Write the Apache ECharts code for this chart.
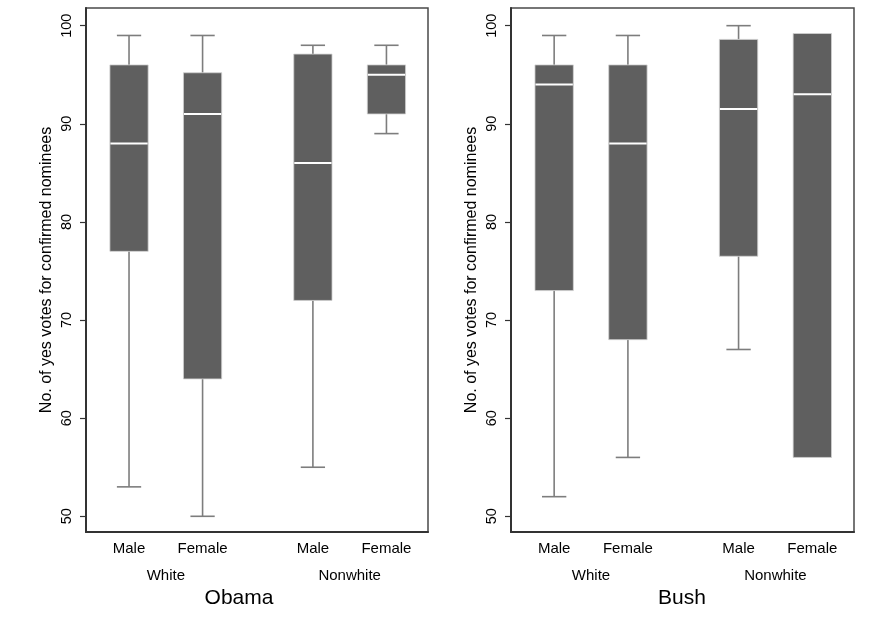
<!DOCTYPE html>
<html>
<head>
<meta charset="utf-8">
<script src="https://cdn.jsdelivr.net/npm/echarts@6/dist/echarts.min.js"></script>
<style>html,body{margin:0;padding:0;background:#fff}#c{width:874px;height:617px}</style>
</head>
<body>
<div id="c"></div>
<script>
// ---- data ----
var categories = ['Male', 'Female', 'Male', 'Female'];
var categoryPositions = [0, 1, 2.5, 3.5];
var groups = ['White', 'Nonwhite'];
var groupPositions = [0.5, 3.0];
var panelTitles = ['Obama', 'Bush'];
var yTicks = [50, 60, 70, 80, 90, 100];
var yAxisTitle = 'No. of yes votes for confirmed nominees';
// [min, Q1, median, Q3, max]
var obamaBoxes = [
  [53, 77, 88, 96, 99],
  [50, 64, 91, 95.2, 99],
  [55, 72, 86, 97.1, 98],
  [89, 91, 95, 96, 98]
];
var bushBoxes = [
  [52, 73, 94, 96, 99],
  [56, 68, 88, 96, 99],
  [67, 76.5, 91.5, 98.6, 100],
  [56, 56, 93, 99.2, 99.2]
];

var FONT = '"Liberation Sans", Arial, Helvetica, sans-serif';
var chart = echarts.init(document.getElementById('c'), null, {renderer: 'canvas'});

function toData(boxes) {
  return boxes.map(function (b, i) { return [categoryPositions[i]].concat(b); });
}

function renderBox(params, api) {
  var x = api.value(0);
  var mn = api.value(1), q1 = api.value(2), md = api.value(3), q3 = api.value(4), mx = api.value(5);
  var pMin = api.coord([x, mn]), pQ1 = api.coord([x, q1]), pMd = api.coord([x, md]);
  var pQ3 = api.coord([x, q3]), pMax = api.coord([x, mx]);
  var bw = api.size([0.52, 0])[0];
  var cw = api.size([0.33, 0])[0];
  var cx = pMd[0];
  var wStyle = {stroke: '#7d7d7d', lineWidth: 1.6};
  var children = [];
  if (mx > q3) {
    children.push({type: 'line', shape: {x1: cx, y1: pQ3[1], x2: cx, y2: pMax[1]}, style: wStyle});
    children.push({type: 'line', shape: {x1: cx - cw / 2, y1: pMax[1], x2: cx + cw / 2, y2: pMax[1]}, style: wStyle});
  }
  if (mn < q1) {
    children.push({type: 'line', shape: {x1: cx, y1: pQ1[1], x2: cx, y2: pMin[1]}, style: wStyle});
    children.push({type: 'line', shape: {x1: cx - cw / 2, y1: pMin[1], x2: cx + cw / 2, y2: pMin[1]}, style: wStyle});
  }
  children.push({type: 'rect', shape: {x: cx - bw / 2, y: pQ3[1], width: bw, height: pQ1[1] - pQ3[1]},
    style: {fill: '#5f5f5f', stroke: '#d0d0d0', lineWidth: 0.8}});
  children.push({type: 'line', shape: {x1: cx - bw / 2 + 0.5, y1: pMd[1], x2: cx + bw / 2 - 0.5, y2: pMd[1]},
    style: {stroke: '#ffffff', lineWidth: 2}});
  return {type: 'group', children: children};
}

var grids = [
  {left: 86, top: 8, width: 342, height: 524, show: true, borderColor: '#4a4a4a', borderWidth: 1.5},
  {left: 511, top: 8, width: 343, height: 524, show: true, borderColor: '#4a4a4a', borderWidth: 1.5}
];

var xAxes = [], yAxes = [], series = [];
[0, 1].forEach(function (g) {
  xAxes.push({
    type: 'value', gridIndex: g, min: -0.585, max: 4.065,
    axisLine: {show: true, onZero: false, lineStyle: {color: '#333', width: 2}},
    axisTick: {show: false}, splitLine: {show: false},
    axisLabel: {
      customValues: categoryPositions, margin: 9,
      formatter: function (v) { var i = categoryPositions.indexOf(v); return i >= 0 ? categories[i] : ''; },
      color: '#000', fontSize: 15, fontFamily: FONT
    }
  });
  xAxes.push({
    type: 'value', gridIndex: g, min: -0.585, max: 4.065, position: 'bottom', offset: 27,
    axisLine: {show: false}, axisTick: {show: false}, splitLine: {show: false},
    axisLabel: {
      customValues: groupPositions, margin: 9,
      formatter: function (v) { var i = groupPositions.indexOf(v); return i >= 0 ? groups[i] : ''; },
      color: '#000', fontSize: 15, fontFamily: FONT
    }
  });
  yAxes.push({
    type: 'value', gridIndex: g, min: 48.4, max: 101.8,
    name: yAxisTitle, nameLocation: 'middle', nameGap: 31, nameRotate: 90,
    nameTextStyle: {fontSize: 16, color: '#000', fontFamily: FONT},
    axisLine: {show: true, onZero: false, lineStyle: {color: '#333', width: 2}},
    axisTick: {show: true, length: 6, customValues: yTicks, lineStyle: {color: '#333', width: 1.2}},
    splitLine: {show: false},
    axisLabel: {customValues: yTicks, rotate: 90, margin: 12, color: '#000', fontSize: 14.5, fontFamily: FONT}
  });
  series.push({
    type: 'custom', xAxisIndex: g * 2, yAxisIndex: g,
    renderItem: renderBox, data: toData(g === 0 ? obamaBoxes : bushBoxes),
    encode: {x: 0, y: [1, 2, 3, 4, 5]}, clip: false, silent: true
  });
});

chart.setOption({
  animation: false,
  backgroundColor: '#ffffff',
  grid: grids,
  xAxis: xAxes,
  yAxis: yAxes,
  series: series,
  graphic: [
    {type: 'text', x: 239, y: 598, style: {text: panelTitles[0], fill: '#000', font: '21px ' + FONT, textAlign: 'center', textVerticalAlign: 'middle'}},
    {type: 'text', x: 682, y: 598, style: {text: panelTitles[1], fill: '#000', font: '21px ' + FONT, textAlign: 'center', textVerticalAlign: 'middle'}}
  ]
});
</script>
</body>
</html>
